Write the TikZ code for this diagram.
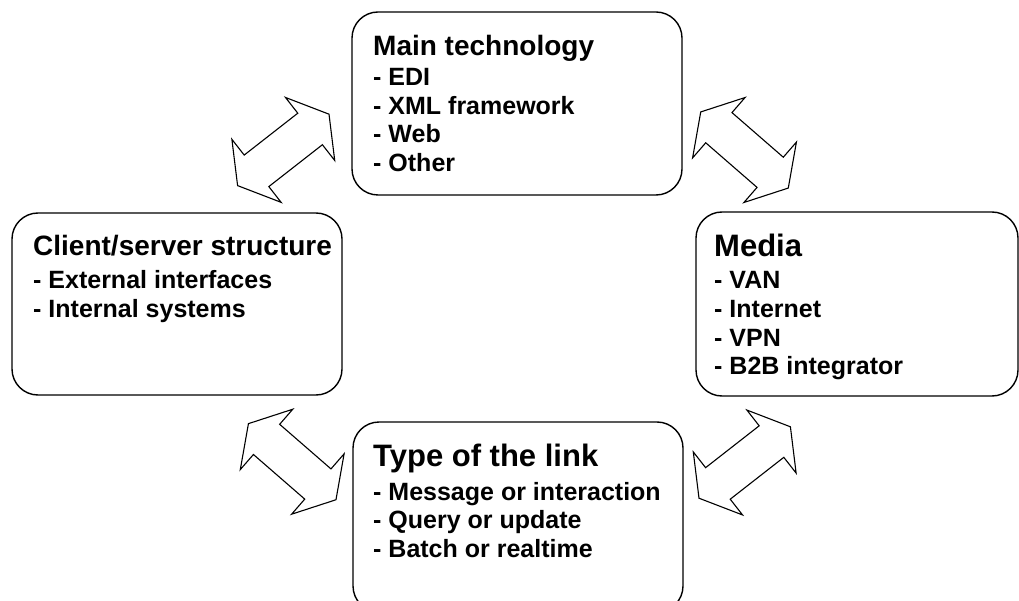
\documentclass[tikz,border=0pt]{standalone}
\usepackage{fontspec}
\setmainfont{Liberation Sans}
\begin{document}
\begin{tikzpicture}[x=1pt,y=-1pt,
  box/.style={draw, line width=1.4pt, rounded corners=26pt, fill=white,
    inner sep=0pt},
  ttl/.style={anchor=base west, inner sep=0pt,
    font=\fontsize{28}{30}\selectfont\bfseries},
  bigttl/.style={anchor=base west, inner sep=0pt,
    font=\fontsize{31}{33}\selectfont\bfseries},
  item/.style={anchor=base west, inner sep=0pt,
    font=\fontsize{25}{28}\selectfont\bfseries},
  blockarrow/.style={draw, line width=1.1pt, fill=white, line join=miter},
  % outlined double-headed block arrow, centred on the origin
  dblarrow/.pic={
    \path[blockarrow] (-58,0) -- (-34,40) -- (-34,20) -- (34,20) -- (34,40)
      -- (58,0) -- (34,-40) -- (34,-20) -- (-34,-20) -- (-34,-40) -- cycle;
  }
]
\useasboundingbox (0,0) rectangle (1019,601);

% the four boxes
\node[box, minimum width=330pt, minimum height=183pt] (tech)   at (517,103.5) {};
\node[box, minimum width=330pt, minimum height=182pt] (client) at (177,304)   {};
\node[box, minimum width=322pt, minimum height=184pt] (media)  at (857,304)   {};
\node[box, minimum width=330pt, minimum height=190pt] (link)   at (518,517)   {};

% box contents
\node[ttl]  (tech-h) at (373,55.5)  {Main technology};
\node[item] (tech-1) at (373,86)    {- EDI};
\node[item] (tech-2) at (373,114.5) {- XML framework};
\node[item] (tech-3) at (373,143)   {- Web};
\node[item] (tech-4) at (373,171.5) {- Other};

\node[ttl]  (client-h) at (33,256)   {Client/server structure};
\node[item] (client-1) at (33,289)   {- External interfaces};
\node[item] (client-2) at (33,317.5) {- Internal systems};

\node[bigttl] (media-h) at (714,256.5) {Media};
\node[item]   (media-1) at (714,288.5) {- VAN};
\node[item]   (media-2) at (714,317.5) {- Internet};
\node[item]   (media-3) at (714,346)   {- VPN};
\node[item]   (media-4) at (714,374.5) {- B2B integrator};

\node[bigttl] (link-h) at (373,466)   {Type of the link};
\node[item]   (link-1) at (373,500)   {- Message or interaction};
\node[item]   (link-2) at (373,528.5) {- Query or update};
\node[item]   (link-3) at (373,557)   {- Batch or realtime};

% block arrows between neighbouring boxes
\coordinate (a-ct) at (283.3,149.9);
\coordinate (a-tm) at (744.5,150);
\coordinate (a-cl) at (292.2,461.7);
\coordinate (a-lm) at (744.7,462.5);
\pic[rotate=38]  at (a-ct) {dblarrow};
\pic[rotate=-41] at (a-tm) {dblarrow};
\pic[rotate=-41] at (a-cl) {dblarrow};
\pic[rotate=38]  at (a-lm) {dblarrow};
\end{tikzpicture}
\end{document}
